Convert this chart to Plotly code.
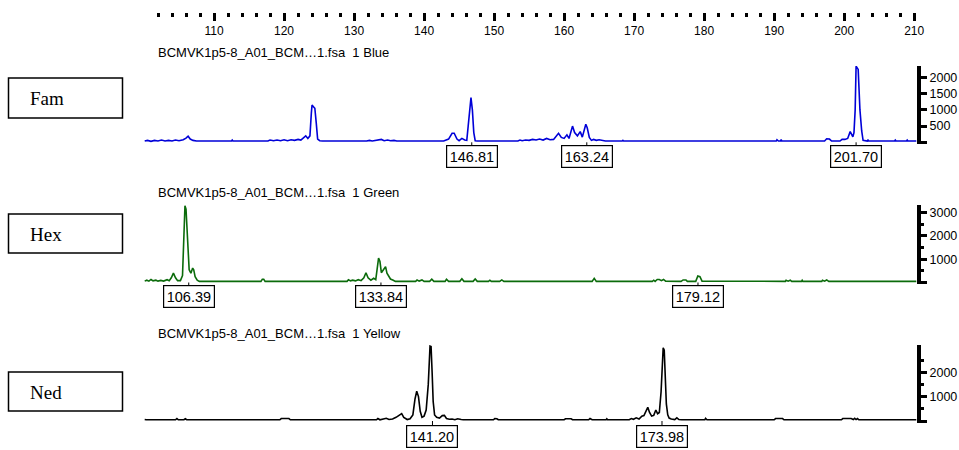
import plotly.graph_objects as go

# ---------------- data ----------------
dye_names = ["Fam", "Hex", "Ned"]
trace_titles = ["BCMVK1p5-8_A01_BCM\u20261.fsa\u00a0 1 Blue",
                "BCMVK1p5-8_A01_BCM\u20261.fsa\u00a0 1 Green",
                "BCMVK1p5-8_A01_BCM\u20261.fsa\u00a0 1 Yellow"]

fam_size = [100.1, 100.5, 101, 101.5, 102, 102.5, 103, 103.5, 104, 104.5, 105, 105.6, 106.0, 106.3, 106.6, 107, 107.5,
            112.5, 112.6, 112.7, 117.7, 118, 118.5, 119, 119.5, 120, 120.5, 121, 121.5, 122, 122.4, 122.8, 123.1, 123.4,
            123.7, 123.9, 124.0, 124.2, 124.4, 124.6, 124.8, 125.1, 125.5, 131.8, 132.2, 132.6, 133.3, 133.9, 134.3,
            134.8, 135.2, 135.7, 136.1, 137.5, 137.6, 137.7, 139.4, 139.5, 139.6, 141.1, 141.3, 141.5, 142.8, 143.5,
            144.0, 144.3, 144.7, 145.0, 145.4, 145.8, 146.1, 146.3, 146.5, 146.7, 146.9, 147.1, 147.3, 147.6, 153.4,
            153.7, 154.0, 154.5, 155.0, 155.5, 156.0, 156.5, 157.0, 157.5, 158.0, 158.5, 159.2, 159.6, 160.0, 160.4,
            160.7, 161.2, 161.5, 161.9, 162.3, 162.6, 163.1, 163.3, 163.6, 163.9, 164.2, 164.6, 165.0, 165.5, 165.9,
            168.3, 168.4, 168.5, 172.6, 172.7, 172.8, 177.6, 177.7, 177.8, 181.8, 181.9, 182.0, 190.3, 190.4, 190.6,
            190.9, 191.0, 191.1, 197.2, 197.5, 197.9, 198.2, 199.4, 199.7, 200.1, 200.5, 200.86, 201.24, 201.4, 201.57,
            201.7, 202.0, 202.25, 202.5, 202.7, 203.3, 203.4, 203.5, 207.2, 207.3, 207.4, 208.9, 209.0, 209.1, 210.3]
fam_rfu = [40, 60, 30, 60, 40, 70, 40, 60, 40, 70, 50, 80, 130, 190, 100, 60, 40,
           40, 70, 40, 40, 70, 50, 70, 50, 80, 50, 80, 60, 90, 70, 150, 200, 120,
           200, 900, 1150, 1100, 1050, 600, 100, 50, 40, 40, 60, 40, 60, 90, 50,
           70, 50, 60, 40, 40, 60, 40, 40, 60, 40, 40, 60, 40, 40, 100,
           280, 280, 100, 50, 120, 70, 60, 500, 1100, 1380, 1000, 300, 50, 40, 40,
           70, 50, 70, 60, 90, 70, 100, 70, 120, 80, 90, 280, 150, 120, 230,
           120, 500, 300, 200, 330, 160, 560, 450, 150, 60, 90, 60, 80, 50, 40,
           40, 60, 40, 40, 60, 40, 40, 60, 40, 40, 60, 40, 40, 80, 40,
           40, 80, 40, 40, 110, 100, 40, 40, 90, 90, 120, 330, 170, 300, 1000,
           2350, 2250, 1000, 350, 60, 40, 70, 40, 40, 70, 40, 40, 70, 40, 40]

hex_size = [100.1, 100.4, 100.7, 101.0, 101.3, 101.7, 102.0, 102.4, 102.8, 103.3, 103.6, 103.9, 104.2, 104.5, 104.8,
            105.2, 105.5, 105.7, 105.85, 106.0, 106.15, 106.3, 106.45, 106.7, 106.95, 107.1, 107.3, 107.6, 107.9,
            116.7, 116.9, 117.1, 117.3, 129.0, 129.2, 129.5, 129.8, 130.2, 130.6, 131.0, 131.4, 131.7, 132.0, 132.4,
            132.8, 133.1, 133.3, 133.5, 133.7, 133.9, 134.2, 134.5, 134.7, 134.9, 135.2, 135.6, 135.9, 138.8, 139.0,
            139.3, 139.7, 140.0, 140.8, 141.1, 141.4, 143.0, 143.2, 143.5, 145.1, 145.4, 145.7, 147.0, 147.3, 147.6,
            149.2, 149.4, 149.6, 150.8, 151.1, 151.4, 164.0, 164.3, 164.6, 172.6, 172.8, 173.0, 173.3, 173.6, 173.9,
            174.2, 174.5, 176.7, 177.0, 177.4, 177.6, 178.8, 179.1, 179.4, 179.7, 191.6, 191.7, 192.0, 192.3, 192.5,
            193.9, 194.0, 194.1, 196.8, 196.9, 197.2, 197.5, 197.8, 210.3]
hex_rfu = [60, 100, 60, 130, 70, 100, 60, 90, 60, 120, 80, 200, 400, 200, 80,
           80, 300, 1700, 3290, 3150, 2200, 1300, 550, 400, 620, 550, 250, 100, 50,
           50, 140, 140, 50, 50, 120, 70, 100, 70, 120, 80, 200, 420, 200, 100,
           180, 120, 500, 1050, 900, 420, 550, 680, 400, 300, 150, 100, 50, 50, 110,
           60, 110, 50, 50, 140, 50, 50, 140, 50, 50, 160, 50, 50, 150, 50,
           50, 100, 50, 50, 110, 50, 50, 180, 50, 50, 100, 50, 130, 130, 80,
           130, 60, 50, 110, 110, 50, 50, 280, 250, 60, 50, 100, 60, 100, 50,
           50, 100, 50, 50, 100, 60, 110, 50, 50]

ned_size = [100.1, 100.3, 104.5, 104.7, 104.9, 105.7, 105.9, 106.1, 119.4, 119.6, 120.7, 120.9, 133.2, 133.4, 133.7,
            134.2, 134.6, 135.0, 135.5, 136.0, 136.5, 136.8, 137.1, 137.6, 138.0, 138.4, 138.7, 138.95, 139.2, 139.45,
            139.7, 140.0, 140.3, 140.6, 140.85, 141.0, 141.15, 141.3, 141.5, 141.8, 142.2, 142.6, 142.9, 143.2, 143.6,
            144.0, 144.4, 144.8, 145.3, 145.6, 149.9, 150.1, 150.4, 150.6, 160.0, 160.2, 161.0, 161.2, 163.5, 163.7,
            164.0, 166.0, 166.1, 166.2, 169.3, 169.6, 169.9, 170.3, 170.7, 171.1, 171.4, 171.7, 171.95, 172.2, 172.5,
            172.8, 173.1, 173.35, 173.6, 173.85, 174.0, 174.15, 174.3, 174.45, 174.6, 174.8, 175.0, 175.3, 175.8,
            176.1, 176.4, 176.8, 180.1, 180.2, 180.4, 190.0, 190.2, 191.2, 191.4, 199.6, 199.8, 201.0, 201.3, 201.5,
            201.7, 201.9, 202.1, 210.3]
ned_rfu = [60, 50, 50, 100, 50, 50, 90, 50, 50, 100, 100, 50, 50, 100, 50,
           80, 110, 60, 80, 150, 250, 300, 150, 60, 90, 250, 900, 1220, 1000, 400,
           150, 200, 450, 1500, 3070, 3050, 2000, 800, 250, 150, 120, 220, 230, 100, 70,
           80, 50, 90, 60, 50, 50, 100, 90, 50, 50, 90, 90, 50, 50, 100,
           50, 50, 90, 50, 50, 100, 70, 130, 80, 200, 220, 450, 560, 350, 200,
           230, 450, 300, 350, 1200, 2600, 3000, 2900, 1600, 700, 250, 120, 80, 60,
           130, 60, 50, 50, 110, 50, 50, 100, 100, 50, 50, 100, 100, 60, 110,
           60, 100, 50, 50]

fam_peaks = [146.81, 163.24, 201.70]
hex_peaks = [106.39, 133.84, 179.12]
ned_peaks = [141.20, 173.98]

size_major_ticks = [110, 120, 130, 140, 150, 160, 170, 180, 190, 200, 210]
size_minor_ticks = [v for v in range(102, 210, 2) if v % 10 != 0]

fam_ticks = [0, 500, 1000, 1500, 2000]
fam_ticklabels = ["", "500", "1000", "1500", "2000"]
hex_ticks = [0, 1000, 2000, 3000]
hex_ticklabels = ["", "1000", "2000", "3000"]
hex_minor = [500, 1500, 2500]
ned_ticks = [0, 1000, 2000]
ned_ticklabels = ["", "1000", "2000"]
ned_minor = [500, 1500, 2500]

# ---------------- layout helpers ----------------
W, H = 959, 450
ML, MR = 144, 42
PW = W - ML - MR


def py(y):  # pixel row -> paper y
    return 1 - y / H


def px(x):  # pixel col -> paper x
    return (x - ML) / PW


X_RANGE = [100, 210.4]
colors = ["#0000d8", "#0b6b0b", "#000000"]

fig = go.Figure()
fig.add_trace(go.Scatter(x=fam_size, y=fam_rfu, mode="lines", line=dict(color=colors[0], width=1.6),
                         xaxis="x", yaxis="y", hoverinfo="skip"))
fig.add_trace(go.Scatter(x=hex_size, y=hex_rfu, mode="lines", line=dict(color=colors[1], width=1.6),
                         xaxis="x2", yaxis="y2", hoverinfo="skip"))
fig.add_trace(go.Scatter(x=ned_size, y=ned_rfu, mode="lines", line=dict(color=colors[2], width=1.6),
                         xaxis="x3", yaxis="y3", hoverinfo="skip"))
# empty trace to host the top size scale
fig.add_trace(go.Scatter(x=[], y=[], mode="lines", xaxis="x4", yaxis="y4", hoverinfo="skip"))

hidden_x = dict(range=X_RANGE, visible=False, domain=[0, 1])
yaxis_common = dict(side="right", ticks="outside", ticklen=6, tickwidth=3, tickcolor="black",
                    showline=True, linewidth=4, linecolor="black", showgrid=False, zeroline=False,
                    tickfont=dict(family="Arial, Liberation Sans", size=12.5, color="black"),
                    fixedrange=True)

fig.update_layout(
    width=W, height=H,
    margin=dict(l=ML, r=MR, t=0, b=0),
    paper_bgcolor="white", plot_bgcolor="white",
    showlegend=False,
    xaxis=dict(hidden_x, anchor="y"),
    xaxis2=dict(hidden_x, anchor="y2"),
    xaxis3=dict(hidden_x, anchor="y3"),
    xaxis4=dict(range=X_RANGE, domain=[0, 1], anchor="y4", side="bottom", showline=False,
                showgrid=False, zeroline=False, ticks="outside", ticklen=8, tickwidth=3, tickcolor="black",
                tickvals=size_major_ticks, ticktext=[str(v) for v in size_major_ticks],
                tickfont=dict(family="Arial, Liberation Sans", size=12, color="black"),
                minor=dict(tickvals=size_minor_ticks, ticks="outside", ticklen=3.5, tickwidth=3,
                           tickcolor="black", showgrid=False)),
    yaxis=dict(yaxis_common, anchor="x", domain=[py(144), py(66)], range=[-52, 2355],
               tickvals=fam_ticks, ticktext=fam_ticklabels),
    yaxis2=dict(yaxis_common, anchor="x2", domain=[py(284), py(205)], range=[-64, 3325],
                tickvals=hex_ticks, ticktext=hex_ticklabels,
                minor=dict(tickvals=hex_minor, ticks="outside", ticklen=3, tickwidth=3, tickcolor="black")),
    yaxis3=dict(yaxis_common, anchor="x3", domain=[py(423), py(345)], range=[-82, 3116],
                tickvals=ned_ticks, ticktext=ned_ticklabels,
                minor=dict(tickvals=ned_minor, ticks="outside", ticklen=3, tickwidth=3, tickcolor="black")),
    yaxis4=dict(domain=[py(12), py(4)], visible=False, range=[0, 1]),
)

annotations = []
shapes = []

# trace titles
for title, yc in zip(trace_titles, [53, 192, 333]):
    annotations.append(dict(text=title, xref="paper", yref="paper", x=px(156), y=py(yc),
                            xanchor="left", yanchor="middle", showarrow=False,
                            font=dict(family="Arial, Liberation Sans", size=13, color="black")))

# dye boxes on the left
for name, (y0, y1) in zip(dye_names, [(78, 118), (214, 253), (372, 411)]):
    shapes.append(dict(type="rect", xref="paper", yref="paper", x0=px(8.5), x1=px(122.5),
                       y0=py(y1), y1=py(y0), line=dict(color="black", width=1.5), fillcolor="white"))
    annotations.append(dict(text=name, xref="paper", yref="paper", x=px(28), y=py((y0 + y1) / 2 + 1),
                            xanchor="left", yanchor="middle", showarrow=False,
                            font=dict(family="Liberation Serif, Times New Roman, serif", size=19, color="black")))

# peak size labels
for peaks, xr, yr, ay in [(fam_peaks, "x", "y", 14.5), (hex_peaks, "x2", "y2", 13.5), (ned_peaks, "x3", "y3", 15)]:
    for v in peaks:
        annotations.append(dict(text=f"{v:.2f}", x=v, y=0, xref=xr, yref=yr, showarrow=True,
                                arrowhead=0, arrowwidth=1, arrowcolor="black", ax=0, ay=ay, standoff=0,
                                bordercolor="black", borderwidth=1.2, borderpad=2.5, bgcolor="white",
                                font=dict(family="Arial, Liberation Sans", size=14.5, color="black")))

fig.update_layout(annotations=annotations, shapes=shapes)

fig.write_html("out.html", config={"displayModeBar": False},
               post_script="document.body.style.margin='0px';document.body.style.overflow='hidden';")
